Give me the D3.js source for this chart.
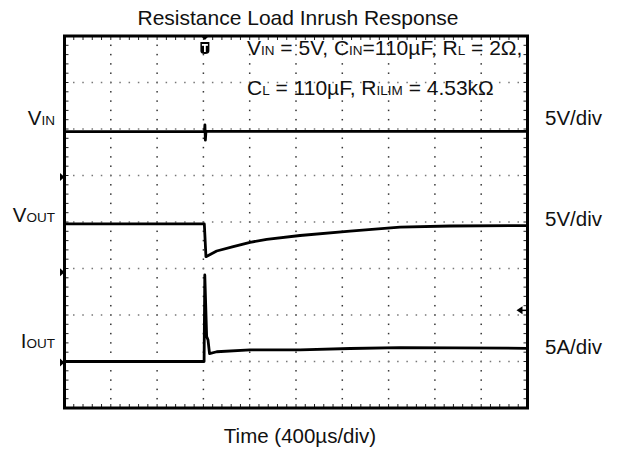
<!DOCTYPE html>
<html>
<head>
<meta charset="utf-8">
<script src="https://cdn.jsdelivr.net/npm/d3@7"></script>
<style>
  html, body { margin: 0; padding: 0; background: #fff; }
  svg { display: block; }
  text { font-family: "Liberation Sans", Arial, Helvetica, sans-serif; fill: #111; }
</style>
</head>
<body>
<svg id="chart" width="619" height="450"></svg>
<script>
// ---------------- data ----------------
const title = "Resistance Load Inrush Response";
const xLabel = "Time (400µs/div)";
const timeDomain = [-1200, 2800];      // µs, 400 µs/div, trigger at 0
const timeDivStep = 400;
const verticalDivs = [0, 8];

// V_IN trace (V)
const vinTime   = [-1200, 10, 13, 17, 22, 2800];
const vinValues = [4.87, 4.87, 5.6, 3.95, 4.9, 4.9];

// V_OUT trace (V)
const voutTime   = [-1200, 8, 22, 115, 258, 403, 547, 835, 1267, 1699, 2131, 2800];
const voutValues = [5.19, 5.19, 1.67, 2.28, 2.75, 3.22, 3.54, 3.95, 4.43, 4.84, 4.97, 5.02];

// I_OUT trace (A)
const ioutTime   = [-1200, 6, 12, 28, 40, 53, 115, 403, 835, 1267, 1699, 2800];
const ioutValues = [0.1, 0.1, 9.4, 2.8, 2.4, 0.95, 1.15, 1.34, 1.36, 1.5, 1.6, 1.52];

// channel settings: units per division and reference (ground) level in divisions
const channelNames  = ["VIN", "VOUT", "IOUT"];
const channelScales = [5, 5, 5];
const channelRefDiv = [4.97, 2.92, 0.98];
const channelScaleLabels = ["5V/div", "5V/div", "5A/div"];
const triggerLevelDiv = 2.1;

// ---------------- layout ----------------
const svg = d3.select("#chart");
const pLeft = 64.5, pRight = 527.5, pTop = 36, pBottom = 408;
const x = d3.scaleLinear().domain(timeDomain).range([pLeft, pRight]);
const y = d3.scaleLinear().domain(verticalDivs).range([pBottom, pTop]);
const FONT = 20.5;
const FONT_NOTE = 21;

// grid dots
const majorX = d3.range(timeDomain[0] + timeDivStep, timeDomain[1], timeDivStep);
const minorX = d3.range(timeDomain[0], timeDomain[1] + 1, timeDivStep / 5);
const majorY = d3.range(1, 8);
const minorY = d3.range(0, 8.0001, 0.2);

const grid = svg.append("g");
majorX.forEach(t => {
  minorY.forEach(d => {
    if (d <= 0.01 || d >= 7.99) return;
    grid.append("rect").attr("x", x(t) - 0.75).attr("y", y(d) - 0.75)
      .attr("width", 1.5).attr("height", 1.5).attr("fill", "#333");
  });
});
majorY.forEach(d => {
  minorX.forEach(t => {
    if (t <= timeDomain[0] || t >= timeDomain[1]) return;
    grid.append("rect").attr("x", x(t) - 0.75).attr("y", y(d) - 0.75)
      .attr("width", 1.5).attr("height", 1.5).attr("fill", "#777");
  });
});

// border ticks
const ticks = svg.append("g").attr("stroke", "#222").attr("stroke-width", 1);
minorX.forEach(t => {
  ticks.append("line").attr("x1", x(t)).attr("x2", x(t)).attr("y1", pTop).attr("y2", pTop + 4);
  ticks.append("line").attr("x1", x(t)).attr("x2", x(t)).attr("y1", pBottom - 4).attr("y2", pBottom);
});
minorY.forEach(d => {
  ticks.append("line").attr("x1", pLeft).attr("x2", pLeft + 4).attr("y1", y(d)).attr("y2", y(d));
  ticks.append("line").attr("x1", pRight - 4).attr("x2", pRight).attr("y1", y(d)).attr("y2", y(d));
});

// traces
function trace(times, values, ch) {
  const pts = times.map((t, i) => [t, values[i]]);
  const line = d3.line()
    .x(d => x(d[0]))
    .y(d => y(channelRefDiv[ch] + d[1] / channelScales[ch]));
  svg.append("path").datum(pts).attr("d", line)
    .attr("fill", "none").attr("stroke", "#000")
    .attr("stroke-width", 2.8).attr("stroke-linejoin", "round");
}
trace(vinTime, vinValues, 0);
trace(voutTime, voutValues, 1);
trace(ioutTime, ioutValues, 2);

// frame
svg.append("rect").attr("x", pLeft).attr("y", pTop)
  .attr("width", pRight - pLeft).attr("height", pBottom - pTop)
  .attr("fill", "none").attr("stroke", "#000").attr("stroke-width", 3);

// channel reference markers (left)
channelRefDiv.forEach(d => {
  const yy = y(d);
  svg.append("path")
    .attr("d", `M${pLeft - 4.5},${yy - 4}L${pLeft},${yy}L${pLeft - 4.5},${yy + 4}Z`)
    .attr("fill", "#000");
});

// trigger level marker (right)
{
  const yy = y(triggerLevelDiv);
  svg.append("path")
    .attr("d", `M${pRight - 11},${yy}L${pRight - 5},${yy - 4}L${pRight - 5},${yy + 4}Z`)
    .attr("fill", "#000");
  svg.append("line").attr("x1", pRight - 6).attr("x2", pRight)
    .attr("y1", yy).attr("y2", yy).attr("stroke", "#000").attr("stroke-width", 1.5);
}

// trigger position marker (top)
{
  const tx = x(0) + 1.5;
  svg.append("path")
    .attr("d", `M${tx - 4},${pTop}L${tx + 4},${pTop}L${tx},${pTop + 4}Z`).attr("fill", "#000");
  svg.append("path")
    .attr("d", `M${tx - 4.5},${pTop + 6}L${tx + 4.5},${pTop + 6}L${tx + 4.5},${pTop + 15}Q${tx + 4.5},${pTop + 18} ${tx},${pTop + 18}Q${tx - 4.5},${pTop + 18} ${tx - 4.5},${pTop + 15}Z`)
    .attr("fill", "#000");
  svg.append("rect").attr("x", tx - 3).attr("y", pTop + 8).attr("width", 6).attr("height", 1.8).attr("fill", "#fff");
  svg.append("rect").attr("x", tx - 0.9).attr("y", pTop + 8).attr("width", 1.8).attr("height", 8).attr("fill", "#fff");
}

// title and axis label
svg.append("text").attr("x", 298).attr("y", 25).attr("text-anchor", "middle")
  .attr("font-size", FONT_NOTE).text(title);
svg.append("text").attr("x", 300).attr("y", 443).attr("text-anchor", "middle")
  .attr("font-size", FONT).text(xLabel);

// text with subscripts helper
function subText(xPos, yPos, parts, anchor, size) {
  const fs = size || FONT;
  const t = svg.append("text").attr("x", xPos).attr("y", yPos)
    .attr("text-anchor", anchor || "start").attr("font-size", fs);
  parts.forEach(p => {
    t.append("tspan").attr("font-size", p[1] ? 13.5 : fs).text(p[0]);
  });
  return t;
}

// left channel labels
const leftLabelY = [125, 222, 348];
subText(55, leftLabelY[0], [["V"], ["IN", 1]], "end");
subText(55, leftLabelY[1], [["V"], ["OUT", 1]], "end");
subText(55, leftLabelY[2], [["I"], ["OUT", 1]], "end");

// right scale labels
const rightLabelY = [125, 226, 354];
channelScaleLabels.forEach((s, i) => {
  svg.append("text").attr("x", 545).attr("y", rightLabelY[i]).attr("font-size", FONT).text(s);
});

// condition annotation
subText(247, 55, [["V"], ["IN", 1], [" = 5V, C"], ["IN", 1], ["=110µF, R"], ["L", 1], [" = 2Ω,"]], "start", FONT_NOTE);
subText(247, 95, [["C"], ["L", 1], [" = 110µF, R"], ["ILIM", 1], [" = 4.53kΩ"]], "start", FONT_NOTE);
</script>
</body>
</html>
